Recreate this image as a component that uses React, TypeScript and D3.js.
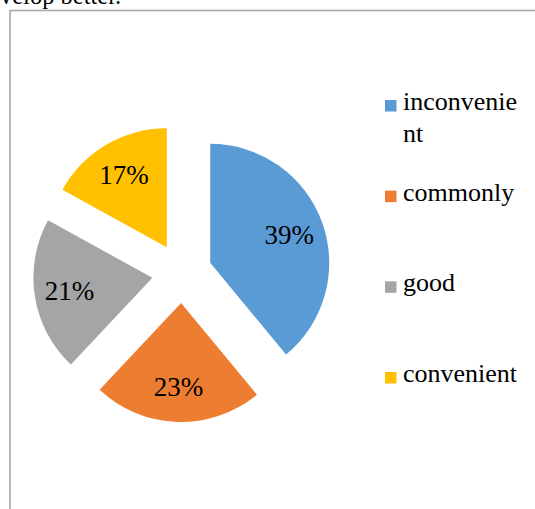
import { useEffect, useRef } from "react"
import * as d3 from "d3"

const categories = ["inconvenient", "commonly", "good", "convenient"]
const values = [39, 23, 21, 17]
const labels = ["39%", "23%", "21%", "17%"]
const legendLines = [["inconvenie", "nt"], ["commonly"], ["good"], ["convenient"]]
const colors = ["#5B9BD5", "#ED7D31", "#A5A5A5", "#FFC000"]

export default function App() {
  const ref = useRef<SVGSVGElement>(null)

  useEffect(() => {
    const svg = d3.select(ref.current)
    svg.selectAll("*").remove()

    const font = "'Times New Roman', 'Liberation Serif', 'DejaVu Serif', serif"

    // text cut off from the document above the chart
    svg.append("text")
      .attr("x", 0)
      .attr("y", 4)
      .style("font-family", font)
      .style("font-size", "24.5px")
      .style("fill", "#000")
      .text("velop better.")

    // chart frame (runs off the right and bottom edge)
    svg.append("rect")
      .attr("x", 10)
      .attr("y", 10.5)
      .attr("width", 600)
      .attr("height", 600)
      .style("fill", "none")
      .style("stroke", "#a9a9a9")
      .style("stroke-width", 1.6)

    const cx = 182, cy = 273, r = 119, explode = 30

    const pie = d3.pie<number>().sort(null)
    const arcs = pie(values)
    const arc = d3.arc<d3.PieArcDatum<number>>().innerRadius(0).outerRadius(r)
    const labelArc = d3.arc<d3.PieArcDatum<number>>().innerRadius(84).outerRadius(84)

    const g = svg.append("g").attr("transform", `translate(${cx},${cy})`)

    const slice = g.selectAll("g.slice")
      .data(arcs)
      .enter()
      .append("g")
      .attr("class", "slice")
      .attr("transform", d => {
        const mid = (d.startAngle + d.endAngle) / 2
        return `translate(${Math.sin(mid) * explode},${-Math.cos(mid) * explode})`
      })

    slice.append("path")
      .attr("d", arc)
      .style("fill", (d, i) => colors[i])

    slice.append("text")
      .attr("transform", d => `translate(${labelArc.centroid(d)})`)
      .attr("text-anchor", "middle")
      .attr("dy", ".35em")
      .style("font-family", font)
      .style("font-size", "27px")
      .style("fill", "#000")
      .text((d, i) => labels[i])

    // legend
    const ly = d3.scalePoint<string>().domain(categories).range([110, 382])

    const leg = svg.selectAll("g.legend")
      .data(categories)
      .enter()
      .append("g")
      .attr("class", "legend")
      .attr("transform", d => `translate(385,${ly(d)})`)

    leg.append("rect")
      .attr("x", 0)
      .attr("y", -10)
      .attr("width", 11.5)
      .attr("height", 11.5)
      .style("fill", (d, i) => colors[i])

    leg.append("text")
      .attr("x", 18)
      .attr("y", 0)
      .style("font-family", font)
      .style("font-size", "26px")
      .style("fill", "#000")
      .selectAll("tspan")
      .data((d, i) => legendLines[i])
      .enter()
      .append("tspan")
      .attr("x", 18)
      .attr("dy", (d, j) => (j === 0 ? 0 : 32))
      .text(d => d)
  }, [])

  return (
    <svg
      ref={ref}
      width={535}
      height={509}
      style={{ position: "absolute", left: 0, top: 0, background: "#fff" }}
    />
  )
}
